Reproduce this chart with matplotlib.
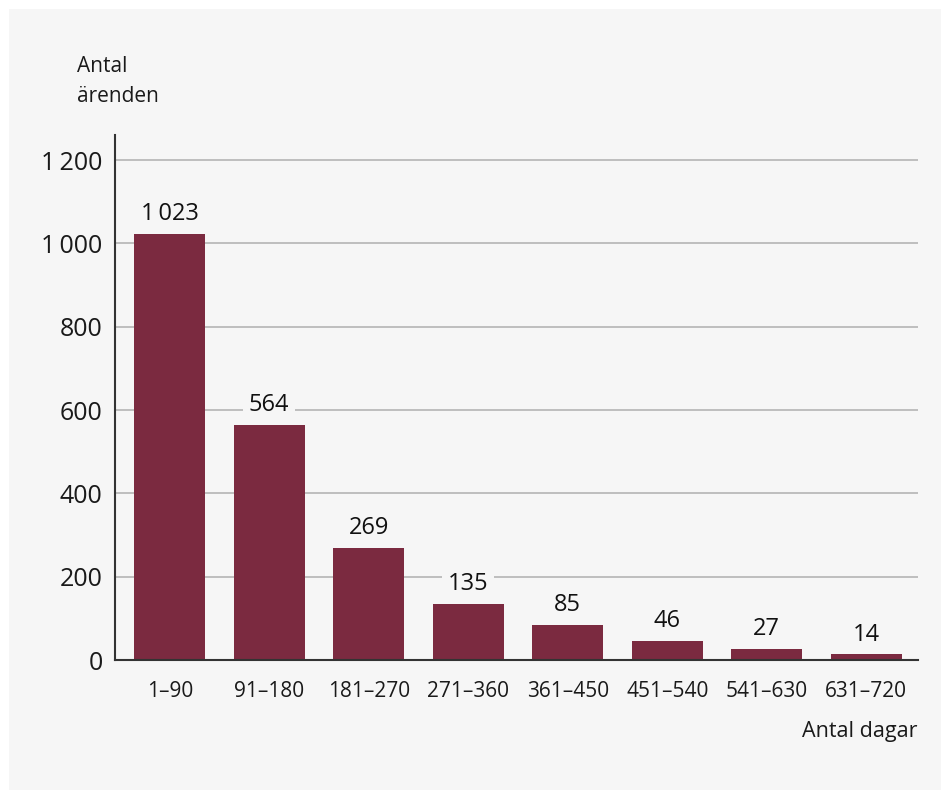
import matplotlib
matplotlib.use("Agg")
import matplotlib.pyplot as plt
from matplotlib.patches import Rectangle

plt.rcParams['font.family'] = ['Open Sans', 'DejaVu Sans']

categories = ["1–90", "91–180", "181–270", "271–360", "361–450", "451–540", "541–630", "631–720"]
values = [1023, 564, 269, 135, 85, 46, 27, 14]
yticks = [0, 200, 400, 600, 800, 1000, 1200]

def fmt(v):
    s = f"{v:,}".replace(",", "\u2009")
    return s

BG = "#f6f6f6"
BAR = "#7b2a40"
TXT = "#1a1a1a"
FS = 15

W, H = 941, 790
fig = plt.figure(figsize=(W/100, H/100), dpi=100)
fig.patch.set_facecolor("white")
fig.add_artist(Rectangle((9/W, 0), 1 - 9/W, 1 - 9/H, transform=fig.transFigure,
                         facecolor=BG, edgecolor="none", zorder=0))

ax = fig.add_axes([115/W, 1 - 660/H, (918-115)/W, (660-135)/H])
ax.set_facecolor("none")
x = list(range(len(categories)))
ax.bar(x, values, width=0.71, color=BAR, zorder=3)
ax.set_xlim(-0.55, 7.52)
ax.set_ylim(0, 1260)
ax.set_yticks(yticks)
ax.set_yticklabels([fmt(v) for v in yticks])
ax.set_xticks(x)
ax.set_xticklabels(categories)
ax.tick_params(axis='both', length=0, colors=TXT)
ax.tick_params(axis='x', pad=15, labelsize=FS)
ax.tick_params(axis='y', pad=9, labelsize=18)
ax.grid(axis='y', color="#b5b5b5", linewidth=1.2, zorder=1)
for s in ["top", "right"]:
    ax.spines[s].set_visible(False)
for s in ["left", "bottom"]:
    ax.spines[s].set_color("#333333")
    ax.spines[s].set_linewidth(1.5)
    ax.spines[s].set_zorder(4)

for xi, v in zip(x, values):
    ax.annotate(fmt(v), (xi, v), xytext=(0, 5.5), textcoords="offset points",
                ha="center", va="bottom", fontsize=17, color="#111111", fontweight="medium",
                bbox=dict(boxstyle="square,pad=0.25", facecolor=BG, edgecolor="none"),
                zorder=5)

fig.text(77/W, 1 - 67/H, "Antal", ha="left", va="center", fontsize=FS, color=TXT)
fig.text(77/W, 1 - 97/H, "ärenden", ha="left", va="center", fontsize=FS, color=TXT)
fig.text(918/W, 1 - 731/H, "Antal dagar", ha="right", va="center", fontsize=15.5, color=TXT)

fig.savefig("out.png", dpi=100, facecolor=fig.get_facecolor())
